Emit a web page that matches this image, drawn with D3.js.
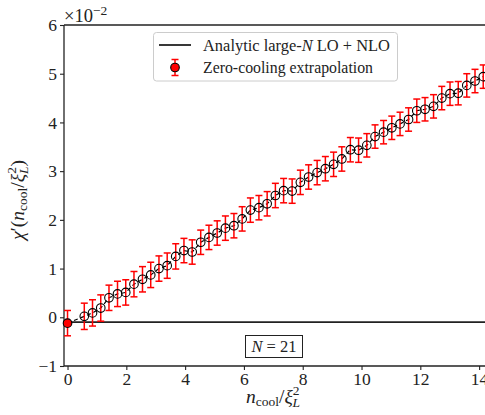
<!DOCTYPE html>
<html><head><meta charset="utf-8">
<script src="https://cdn.jsdelivr.net/npm/d3@7"></script>
<style>body{margin:0;background:#fff}svg{display:block}</style>
</head><body>
<svg id="c" width="485" height="415"></svg>
<script>
// data (y in units of 1e-2)
const nCool = [0, 0.57, 0.85, 1.13, 1.41, 1.70, 1.98, 2.26, 2.55, 2.83, 3.11, 3.39, 3.68, 3.96, 4.24, 4.53, 4.81, 5.09, 5.37, 5.66, 5.94, 6.22, 6.51, 6.79, 7.07, 7.35, 7.64, 7.92, 8.20, 8.49, 8.77, 9.05, 9.33, 9.62, 9.90, 10.18, 10.46, 10.75, 11.03, 11.31, 11.60, 11.88, 12.16, 12.45, 12.73, 13.01, 13.29, 13.58, 13.86, 14.14];
const chiPrime = [-0.12, 0.02, 0.09, 0.19, 0.40, 0.48, 0.51, 0.68, 0.78, 0.87, 1.00, 1.06, 1.25, 1.37, 1.34, 1.54, 1.64, 1.73, 1.83, 1.88, 2.02, 2.20, 2.25, 2.33, 2.50, 2.60, 2.59, 2.77, 2.88, 2.97, 3.05, 3.14, 3.25, 3.44, 3.43, 3.53, 3.71, 3.80, 3.89, 3.97, 4.06, 4.24, 4.27, 4.33, 4.50, 4.59, 4.60, 4.76, 4.85, 4.94];
const chiErr = [0.26, 0.27, 0.27, 0.27, 0.26, 0.26, 0.26, 0.26, 0.26, 0.26, 0.26, 0.26, 0.26, 0.25, 0.25, 0.25, 0.25, 0.25, 0.25, 0.25, 0.25, 0.25, 0.25, 0.25, 0.25, 0.25, 0.25, 0.25, 0.25, 0.25, 0.25, 0.25, 0.25, 0.25, 0.25, 0.24, 0.24, 0.24, 0.24, 0.24, 0.24, 0.24, 0.24, 0.24, 0.24, 0.24, 0.24, 0.24, 0.24, 0.24];
const analyticValue = -0.10;
const xTicks = [0, 2, 4, 6, 8, 10, 12, 14];
const yTicks = [-1, 0, 1, 2, 3, 4, 5, 6];
const legendLabels = ["Analytic large-N LO + NLO", "Zero-cooling extrapolation"];

const svg = d3.select("#c");
const L = 64, R = 490, T = 25, B = 366;
const x = d3.scaleLinear().domain([-0.12, 14.37]).range([L, R]);
const y = d3.scaleLinear().domain([-1, 6]).range([B, T]);
const TXT = "#222";
function font(sel, px) {
  return sel.style("font-family", "serif").style("font-size", px + "px").style("fill", TXT);
}

// spines
const axisCol = "#222";
svg.append("line").attr("x1", L).attr("x2", R).attr("y1", T).attr("y2", T).attr("stroke", axisCol).attr("stroke-width", 1.3);
svg.append("line").attr("x1", L).attr("x2", R).attr("y1", B).attr("y2", B).attr("stroke", axisCol).attr("stroke-width", 1.3);
svg.append("line").attr("x1", L).attr("x2", L).attr("y1", T).attr("y2", B).attr("stroke", axisCol).attr("stroke-width", 1.3);

// axes
const xAxis = d3.axisBottom(x).tickValues(xTicks).tickSize(4).tickPadding(3).tickFormat(d3.format("d"));
const gx = svg.append("g").attr("transform", `translate(0,${B})`).call(xAxis);
gx.select(".domain").remove();
gx.selectAll("line").attr("stroke", axisCol).attr("stroke-width", 1.1);
font(gx.selectAll("text"), 17.5);

const yAxis = d3.axisLeft(y).tickValues(yTicks).tickSize(4).tickPadding(3).tickFormat(d => d < 0 ? "\u2212" + Math.abs(d) : d);
const gy = svg.append("g").attr("transform", `translate(${L},0)`).call(yAxis);
gy.select(".domain").remove();
gy.selectAll("line").attr("stroke", axisCol).attr("stroke-width", 1.1);
font(gy.selectAll("text"), 17.5);

// multiplier
const mult = font(svg.append("text").attr("x", 64).attr("y", 22), 18.5);
mult.append("tspan").text("\u00d710");
mult.append("tspan").style("font-size", "13.5px").attr("dy", -7).text("\u22122");

// analytic line
svg.append("line").attr("x1", L).attr("x2", R).attr("y1", y(analyticValue)).attr("y2", y(analyticValue))
  .attr("stroke", "#222").attr("stroke-width", 1.8);

const pts = nCool.map((v, i) => ({x: v, y: chiPrime[i], e: chiErr[i], i}));

// dashed connecting line
svg.append("path").datum(pts)
  .attr("d", d3.line().x(d => x(d.x)).y(d => y(d.y)))
  .attr("fill", "none").attr("stroke", "#000").attr("stroke-width", 1.2).attr("stroke-dasharray", "4,3");

// error bars
const eb = svg.append("g").attr("stroke", "#ff0000").attr("stroke-width", 1.5);
pts.forEach(d => {
  const cx = x(d.x);
  eb.append("line").attr("x1", cx).attr("x2", cx).attr("y1", y(d.y - d.e)).attr("y2", y(d.y + d.e));
  eb.append("line").attr("x1", cx - 3.5).attr("x2", cx + 3.5).attr("y1", y(d.y - d.e)).attr("y2", y(d.y - d.e));
  eb.append("line").attr("x1", cx - 3.5).attr("x2", cx + 3.5).attr("y1", y(d.y + d.e)).attr("y2", y(d.y + d.e));
});

// markers
svg.append("g").selectAll("circle").data(pts).join("circle")
  .attr("cx", d => x(d.x)).attr("cy", d => y(d.y)).attr("r", 4.3)
  .attr("fill", d => d.i === 0 ? "#ff0000" : "none")
  .attr("stroke", "#000").attr("stroke-width", 1.1);

// legend
const lg = svg.append("g");
lg.append("rect").attr("x", 153.5).attr("y", 32.5).attr("width", 244).attr("height", 48.5).attr("rx", 3)
  .attr("fill", "#fff").attr("fill-opacity", 0.8).attr("stroke", "#ccc").attr("stroke-width", 1);
lg.append("line").attr("x1", 159).attr("x2", 191).attr("y1", 45).attr("y2", 45).attr("stroke", "#222").attr("stroke-width", 1.8);
lg.append("line").attr("x1", 175).attr("x2", 175).attr("y1", 59.5).attr("y2", 75.5).attr("stroke", "#ff0000").attr("stroke-width", 1.5);
lg.append("line").attr("x1", 171.5).attr("x2", 178.5).attr("y1", 59.5).attr("y2", 59.5).attr("stroke", "#ff0000").attr("stroke-width", 1.5);
lg.append("line").attr("x1", 171.5).attr("x2", 178.5).attr("y1", 75.5).attr("y2", 75.5).attr("stroke", "#ff0000").attr("stroke-width", 1.5);
lg.append("circle").attr("cx", 175).attr("cy", 67.5).attr("r", 4.3).attr("fill", "#ff0000").attr("stroke", "#000").attr("stroke-width", 1.1);
const t1 = font(lg.append("text").attr("x", 203).attr("y", 50.5), 16.5).attr("textLength", 187).attr("lengthAdjust", "spacingAndGlyphs");
t1.append("tspan").text("Analytic large-");
t1.append("tspan").style("font-style", "italic").text("N");
t1.append("tspan").text(" LO + NLO");
font(lg.append("text").attr("x", 203).attr("y", 72.5), 16.5).attr("textLength", 170).attr("lengthAdjust", "spacingAndGlyphs").text(legendLabels[1]);

// N = 21 box
svg.append("rect").attr("x", 245.5).attr("y", 335.5).attr("width", 57).attr("height", 22).attr("fill", "#fff").attr("stroke", "#222").attr("stroke-width", 1);
const nt = font(svg.append("text").attr("x", 274).attr("y", 352).attr("text-anchor", "middle"), 16.5);
nt.append("tspan").style("font-style", "italic").text("N");
nt.append("tspan").text(" = 21");

// x label
const xl = font(svg.append("text").attr("x", 246).attr("y", 403), 19.5);
xl.append("tspan").style("font-style", "italic").text("n");
xl.append("tspan").style("font-size", "13.5px").attr("dy", 3).text("cool");
xl.append("tspan").attr("dy", -3).text("/");
xl.append("tspan").style("font-style", "italic").text("\u03be");
xl.append("tspan").style("font-size", "13.5px").attr("dy", -8).text("2");
xl.append("tspan").style("font-size", "13.5px").style("font-style", "italic").attr("dx", -7).attr("dy", 12).text("L");

// y label
const yl = font(svg.append("text").attr("transform", "translate(24,240) rotate(-90)"), 19.5);
yl.append("tspan").style("font-style", "italic").text("\u03c7");
yl.append("tspan").text("\u2032(");
yl.append("tspan").style("font-style", "italic").text("n");
yl.append("tspan").style("font-size", "13.5px").attr("dy", 3).text("cool");
yl.append("tspan").attr("dy", -3).text("/");
yl.append("tspan").style("font-style", "italic").text("\u03be");
yl.append("tspan").style("font-size", "13.5px").attr("dy", -8).text("2");
yl.append("tspan").style("font-size", "13.5px").style("font-style", "italic").attr("dx", -7).attr("dy", 12).text("L");
yl.append("tspan").attr("dy", -4).text(")");
</script>
</body></html>
